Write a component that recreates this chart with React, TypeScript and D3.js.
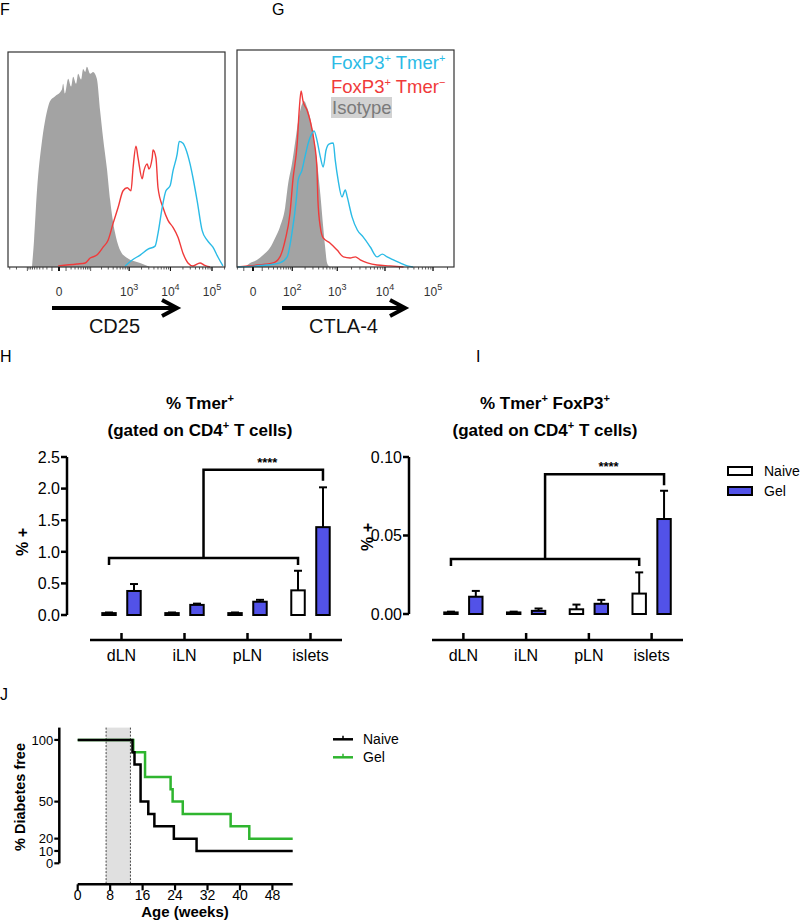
import React from "react";
import * as d3 from "d3";

const FONT = "'Liberation Sans', Arial, Helvetica, sans-serif";

// ---------------- Panels F & G : flow histograms ----------------
// x = biexponential display units (decades), y = % of mode
const F_ISOTYPE: [number, number][] = [
  [-0.65, 0], [-0.6, 12.6], [-0.53, 35.8], [-0.41, 59], [-0.29, 73], [-0.22, 77.7], [-0.1, 80],
  [0.07, 83.3], [0.1, 86], [0.14, 81.4], [0.22, 88.4], [0.29, 84.7], [0.34, 89.3], [0.41, 86],
  [0.46, 90.7], [0.53, 88], [0.58, 93], [0.63, 91.6], [0.67, 94], [0.75, 90.7], [0.82, 91.6],
  [0.91, 88.4], [0.99, 73], [1.06, 60.5], [1.15, 46.5], [1.23, 31.2], [1.35, 15.8], [1.47, 7.9],
  [1.64, 4.2], [1.95, 1.9], [2.19, 0],
];
const F_TMER_NEG: [number, number][] = [
  [-0.02, 0.5], [0.43, 1.4], [0.63, 1.9], [0.75, 4.2], [0.91, 5.6], [1.06, 9.3], [1.18, 12.6],
  [1.3, 20.5], [1.42, 27.9], [1.54, 35.8], [1.64, 37.2], [1.73, 35.8], [1.78, 46.5], [1.85, 56.7],
  [1.9, 51.2], [2.0, 41.4], [2.04, 45.1], [2.12, 48.4], [2.16, 46], [2.24, 51.2], [2.26, 54.9],
  [2.33, 51.2], [2.38, 37.2], [2.5, 27.9], [2.62, 21.9], [2.74, 18.6], [2.86, 14], [2.98, 6.5],
  [3.1, 1.9], [3.22, 0.5], [3.39, 1.9], [3.49, 0.9], [3.63, 0],
];
const F_TMER_POS: [number, number][] = [
  [1.59, 0.5], [1.76, 3.3], [1.95, 5.6], [2.14, 8.4], [2.31, 9.8], [2.38, 15.8], [2.48, 27.9],
  [2.57, 35.8], [2.67, 38.1], [2.74, 45.1], [2.84, 53], [2.89, 59], [2.98, 58.1], [3.05, 55.3],
  [3.15, 48.4], [3.22, 41.9], [3.32, 31.2], [3.44, 17.2], [3.56, 12.6], [3.7, 9.3], [3.82, 4.7],
  [3.94, 0.5],
];
const G_ISOTYPE: [number, number][] = [
  [-0.17, 0], [-0.06, 1.9], [0.08, 3.3], [0.21, 5.6], [0.35, 8.8], [0.46, 13.5], [0.56, 18.6],
  [0.67, 27.9], [0.73, 38.6], [0.81, 48], [0.88, 58.6], [0.94, 67.9], [1.02, 75.8], [1.06, 77.2],
  [1.13, 74], [1.19, 69.3], [1.25, 61.9], [1.33, 49.3], [1.4, 34], [1.46, 18.6], [1.5, 9.3],
  [1.54, 1.9], [1.6, 0],
];
const G_TMER_NEG: [number, number][] = [
  [-0.33, 0], [0.08, 0.9], [0.42, 1.9], [0.56, 4.7], [0.67, 12.6], [0.77, 25.1], [0.83, 40.5],
  [0.92, 57.7], [0.96, 72.6], [1.0, 81.9], [1.04, 77.2], [1.13, 72.6], [1.19, 67.9], [1.27, 58.6],
  [1.33, 46], [1.35, 31.2], [1.4, 18.6], [1.46, 13.5], [1.6, 11.2], [1.75, 7.9], [1.88, 4.7],
  [2.02, 4.2], [2.13, 4.7], [2.23, 3.3], [2.38, 1.9], [2.58, 0.9], [2.85, 0.5], [3.13, 0],
];
const G_TMER_POS: [number, number][] = [
  [-0.33, 0], [0.29, 0.9], [0.56, 1.9], [0.71, 4.7], [0.81, 15.8], [0.9, 31.2], [0.94, 40.5],
  [1.02, 45.1], [1.08, 51.2], [1.15, 57.7], [1.23, 62.3], [1.27, 63.3], [1.33, 59], [1.4, 51.2],
  [1.46, 46.5], [1.52, 54.4], [1.58, 57.2], [1.67, 57.7], [1.71, 49.8], [1.77, 40.5], [1.85, 32.6],
  [1.92, 35.8], [1.96, 32.6], [2.06, 23.3], [2.17, 17.2], [2.29, 14], [2.44, 9.3], [2.58, 4.7],
  [2.69, 6], [2.79, 4.7], [2.92, 3.3], [3.06, 1.9], [3.21, 0.5], [3.33, 0],
];
const F_TICK_VALUES = [0, 1e3, 1e4, 1e5];
const G_TICK_VALUES = [0, 1e2, 1e3, 1e4, 1e5];
const HIST_LEGEND = ["FoxP3", "FoxP3", "Isotype"];

// ---------------- Panels H & I : bar charts ----------------
const CATEGORIES = ["dLN", "iLN", "pLN", "islets"];
const SERIES = ["Naive", "Gel"];
const H_NAIVE = [0.03, 0.03, 0.03, 0.39];
const H_NAIVE_ERR = [0.01, 0.01, 0.01, 0.31];
const H_GEL = [0.38, 0.16, 0.21, 1.39];
const H_GEL_ERR = [0.11, 0.02, 0.03, 0.63];
const H_TICKS = [0, 0.5, 1, 1.5, 2, 2.5];
const H_BRACKET = [0.9, 2.3];
const I_NAIVE = [0.001, 0.001, 0.003, 0.013];
const I_NAIVE_ERR = [0.0005, 0.0005, 0.003, 0.0135];
const I_GEL = [0.011, 0.002, 0.0065, 0.0605];
const I_GEL_ERR = [0.0037, 0.0015, 0.0025, 0.018];
const I_TICKS = [0, 0.05, 0.1];
const I_BRACKET = [0.035, 0.089];

// ---------------- Panel J : survival ----------------
const J_NAIVE_TIME = [0, 13.5, 14, 15.5, 17.4, 18.9, 23.7, 29.3, 53];
const J_NAIVE_SURV = [100, 90, 80, 50, 40, 30, 20, 10, 10];
const J_GEL_TIME = [0, 13.7, 16.6, 22.9, 23.4, 25.9, 37.7, 42.3, 53];
const J_GEL_SURV = [100, 90, 70, 60, 50, 40, 30, 20, 20];
const J_X_TICKS = [0, 8, 16, 24, 32, 40, 48];
const J_Y_TICKS = [0, 10, 20, 50, 100];
const J_SHADE = [7, 13];

const CYAN = "#2bbbe6";
const RED = "#f03a3a";
const GREY = "#a3a3a3";
const BLUE = "#5252e8";
const GREEN = "#2fb52f";

const symT = (c: number) => (v: number) => Math.sign(v) * Math.log10(1 + Math.abs(v) / c);

function Histogram(props: {
  x0: number; x1: number; top: number; base: number; domain: [number, number]; c: number;
  iso: [number, number][]; neg: [number, number][]; pos: [number, number][]; ticks: number[];
  label: string; arrow: [number, number]; legend?: boolean;
}) {
  const { x0, x1, top, base, domain, c, iso, neg, pos, ticks, label, arrow, legend } = props;
  const x = d3.scaleLinear().domain(domain).range([x0, x1]);
  const y = d3.scaleLinear().domain([0, 100]).range([base, top + 2]);
  const T = symT(c);
  const area = d3.area<[number, number]>().x(d => x(d[0])).y0(base).y1(d => y(d[1])).curve(d3.curveMonotoneX);
  const line = d3.line<[number, number]>().x(d => x(d[0])).y(d => y(d[1])).curve(d3.curveMonotoneX);
  const minor: number[] = [];
  for (const s of [-1, 1]) for (let k = 1; k <= 5; k++) for (let m = 1; m <= 9; m++) {
    const v = s * m * Math.pow(10, k);
    const t = T(v);
    if (t > domain[0] && t < domain[1]) minor.push(v);
  }
  const ay = 308;
  return (
    <g>
      <path d={area(iso) || ""} fill={GREY} />
      <path d={line(neg) || ""} fill="none" stroke={RED} strokeWidth={1.4} />
      <path d={line(pos) || ""} fill="none" stroke={CYAN} strokeWidth={1.4} />
      <rect x={x0} y={top} width={x1 - x0} height={base - top} fill="none" stroke="#333" strokeWidth={1.2} />
      {minor.map((v, i) => (
        <line key={i} x1={x(T(v))} x2={x(T(v))} y1={base} y2={base + (Math.abs(Math.log10(Math.abs(v)) % 1) < 1e-9 ? 4 : 2.5)} stroke="#333" strokeWidth={0.8} />
      ))}
      {ticks.map((v, i) => (
        <g key={"t" + i}>
          <line x1={x(T(v))} x2={x(T(v))} y1={base} y2={base + 4} stroke="#111" strokeWidth={v === 0 ? 2 : 1} />
          <text x={x(T(v))} y={296} textAnchor="middle" fontSize={12} fill="#333" fontFamily={FONT}>
            {v === 0 ? "0" : <>10<tspan dy={-6} fontSize={9}>{Math.round(Math.log10(v))}</tspan></>}
          </text>
        </g>
      ))}
      <line x1={arrow[0]} x2={arrow[1] - 2} y1={ay} y2={ay} stroke="#000" strokeWidth={4} />
      <path d={`M${arrow[1] - 15},${ay - 8} L${arrow[1]},${ay} L${arrow[1] - 15},${ay + 8}`} fill="none" stroke="#000" strokeWidth={4} />
      <text x={(arrow[0] + arrow[1]) / 2} y={333} textAnchor="middle" fontSize={20} fontFamily={FONT} fill="#111">{label}</text>
      {legend && (
        <g fontFamily={FONT} fontSize={18.5}>
          <text x={331} y={69} fill={CYAN}>{HIST_LEGEND[0]}<tspan dy={-7} fontSize={11}>+</tspan><tspan dy={7}> Tmer</tspan><tspan dy={-7} fontSize={11}>+</tspan></text>
          <text x={331} y={93} fill={RED}>{HIST_LEGEND[1]}<tspan dy={-7} fontSize={11}>+</tspan><tspan dy={7}> Tmer</tspan><tspan dy={-7} fontSize={11}>−</tspan></text>
          <rect x={331} y={97} width={61} height={21} fill="#d2d2d2" />
          <text x={332} y={114} fill="#7a7a7a">{HIST_LEGEND[2]}</text>
        </g>
      )}
    </g>
  );
}

function BarPanel(props: {
  axisX: number; yTop: number; yBot: number; xStart: number; xEnd: number; xAxisY: number;
  max: number; ticks: number[]; fmt: string; naive: number[]; naiveErr: number[]; gel: number[]; gelErr: number[];
  bracket: number[]; title: string[]; titleX: number; ylab: [number, number];
}) {
  const p = props;
  const y = d3.scaleLinear().domain([0, p.max]).range([p.yBot, p.yTop]);
  const x = d3.scaleBand().domain(CATEGORIES).range([p.xStart, p.xEnd]);
  const bw = x.bandwidth();
  const x1 = d3.scaleBand().domain(SERIES).range([bw * 0.195, bw * 0.805]).paddingInner(0.46);
  const w = x1.bandwidth();
  const fmt = d3.format(p.fmt);
  const vals = [p.naive, p.gel];
  const errs = [p.naiveErr, p.gelErr];
  const cx = (cat: string, s: string) => (x(cat) as number) + (x1(s) as number) + w / 2;
  const lowL = cx("dLN", "Naive");
  const lowR = cx("islets", "Naive");
  const mid = (lowL + lowR) / 2;
  const hiR = cx("islets", "Gel");
  const yl = y(p.bracket[0]);
  const yh = y(p.bracket[1]);
  return (
    <g fontFamily={FONT}>
      <text x={p.titleX} y={409} textAnchor="middle" fontWeight="bold" fontSize={17}>
        {p.title.map((s, i) => (
          <React.Fragment key={i}>
            <tspan dy={i === 0 ? 0 : 7}>{(i === 0 ? "" : " ") + s}</tspan>
            <tspan dy={-7} fontSize={11}>+</tspan>
          </React.Fragment>
        ))}
      </text>
      <text x={p.titleX} y={436} textAnchor="middle" fontWeight="bold" fontSize={17}>
        (gated on CD4<tspan dy={-7} fontSize={11}>+</tspan><tspan dy={7}> T cells)</tspan>
      </text>
      <line x1={p.axisX} x2={p.axisX} y1={p.yTop} y2={p.yBot} stroke="#000" strokeWidth={2.5} />
      {p.ticks.map((t, i) => (
        <g key={i}>
          <line x1={p.axisX - 6} x2={p.axisX} y1={y(t)} y2={y(t)} stroke="#000" strokeWidth={2.5} />
          <text x={p.axisX - 7} y={y(t)} dy="0.36em" textAnchor="end" fontSize={16}>{fmt(t)}</text>
        </g>
      ))}
      <text transform={`translate(${p.ylab[0]},${p.ylab[1]}) rotate(-90)`} textAnchor="middle" fontWeight="bold" fontSize={16} dy="0.35em">% +</text>
      <line x1={p.xStart} x2={p.xEnd} y1={p.xAxisY} y2={p.xAxisY} stroke="#000" strokeWidth={2.5} />
      {CATEGORIES.map((c) => (
        <g key={c}>
          <line x1={(x(c) as number) + bw / 2} x2={(x(c) as number) + bw / 2} y1={p.xAxisY} y2={p.xAxisY - 7} stroke="#000" strokeWidth={2.5} />
          <text x={(x(c) as number) + bw / 2} y={p.xAxisY + 21} textAnchor="middle" fontSize={16}>{c}</text>
        </g>
      ))}
      {SERIES.map((s, si) =>
        CATEGORIES.map((c, i) => {
          const v = vals[si][i];
          const e = errs[si][i];
          const bx = (x(c) as number) + (x1(s) as number);
          const xc = bx + w / 2;
          return (
            <g key={s + c}>
              <line x1={xc} x2={xc} y1={y(v)} y2={y(v + e)} stroke="#000" strokeWidth={2} />
              <line x1={xc - 4} x2={xc + 4} y1={y(v + e)} y2={y(v + e)} stroke="#000" strokeWidth={2} />
              <rect x={bx} y={y(v)} width={w} height={y(0) - y(v)} fill={si === 0 ? "#fff" : BLUE} stroke="#000" strokeWidth={2} />
            </g>
          );
        })
      )}
      <path d={`M${lowL},${yl + 7} V${yl} H${lowR} V${yl + 7}`} fill="none" stroke="#000" strokeWidth={2.5} />
      <path d={`M${mid},${yl} V${yh} H${hiR} V${yh + 11}`} fill="none" stroke="#000" strokeWidth={2.5} />
      <text x={(mid + hiR) / 2 + 4} y={yh - 3} textAnchor="middle" fontSize={13} fontWeight="bold">****</text>
    </g>
  );
}

function Survival() {
  const x = d3.scaleLinear().domain([0, 53]).range([77.7, 292.7]);
  const y = d3.scaleLinear().domain([0, 110]).range([863.3, 727.6]);
  const line = d3.line<[number, number]>().x(d => x(d[0])).y(d => y(d[1])).curve(d3.curveStepAfter);
  const naive = J_NAIVE_TIME.map((t, i) => [t, J_NAIVE_SURV[i]] as [number, number]);
  const gel = J_GEL_TIME.map((t, i) => [t, J_GEL_SURV[i]] as [number, number]);
  const xAxisY = 884.3;
  const yAxisX = 59.3;
  return (
    <g fontFamily={FONT}>
      <rect x={x(J_SHADE[0])} y={y(110)} width={x(J_SHADE[1]) - x(J_SHADE[0])} height={xAxisY - y(110)} fill="#e0e0e0" />
      {J_SHADE.map((s, i) => (
        <line key={i} x1={x(s)} x2={x(s)} y1={y(110)} y2={xAxisY} stroke="#333" strokeWidth={0.9} strokeDasharray="2,1.5" />
      ))}
      <path d={line(gel) || ""} fill="none" stroke={GREEN} strokeWidth={2.5} />
      <path d={line(naive) || ""} fill="none" stroke="#000" strokeWidth={2.5} />
      <line x1={yAxisX} x2={yAxisX} y1={y(110)} y2={y(0)} stroke="#000" strokeWidth={2.5} />
      {J_Y_TICKS.map(t => (
        <g key={t}>
          <line x1={yAxisX - 5} x2={yAxisX} y1={y(t)} y2={y(t)} stroke="#000" strokeWidth={2.2} />
          <text x={yAxisX - 6} y={y(t)} dy="0.36em" textAnchor="end" fontSize={13}>{t}</text>
        </g>
      ))}
      <text transform={`translate(20,797) rotate(-90)`} textAnchor="middle" fontWeight="bold" fontSize={14.5} dy="0.35em">% Diabetes free</text>
      <line x1={x(0)} x2={x(53)} y1={xAxisY} y2={xAxisY} stroke="#000" strokeWidth={2.5} />
      {J_X_TICKS.map(t => (
        <g key={t}>
          <line x1={x(t)} x2={x(t)} y1={xAxisY} y2={xAxisY + 6} stroke="#000" strokeWidth={2.2} />
          <text x={x(t)} y={900} textAnchor="middle" fontSize={14}>{t}</text>
        </g>
      ))}
      <text x={185} y={917} textAnchor="middle" fontWeight="bold" fontSize={15}>Age (weeks)</text>
      {[["Naive", "#000", 739.3], ["Gel", GREEN, 757.3]].map(([n, col, ly]) => (
        <g key={n as string}>
          <line x1={333} x2={353} y1={ly as number} y2={ly as number} stroke={col as string} strokeWidth={2.5} />
          <line x1={343} x2={343} y1={(ly as number) - 3.5} y2={ly as number} stroke={col as string} strokeWidth={1.5} />
          <text x={363} y={ly as number} dy="0.36em" fontSize={14}>{n}</text>
        </g>
      ))}
    </g>
  );
}

export default function App() {
  return (
    <svg width={800} height={921} style={{ position: "absolute", left: 0, top: 0, background: "#fff" }} fontFamily={FONT}>
      <text x={0} y={15} fontSize={16} fontFamily={FONT}>F</text>
      <text x={272} y={15} fontSize={16} fontFamily={FONT}>G</text>
      <text x={0} y={362} fontSize={16} fontFamily={FONT}>H</text>
      <text x={476} y={362} fontSize={16} fontFamily={FONT}>I</text>
      <text x={0} y={700} fontSize={16} fontFamily={FONT}>J</text>
      <Histogram x0={8} x1={225} top={52} base={267} domain={[-1.226, 3.99]} c={21}
        iso={F_ISOTYPE} neg={F_TMER_NEG} pos={F_TMER_POS} ticks={F_TICK_VALUES} label="CD25" arrow={[52, 177]} />
      <Histogram x0={237} x1={454} top={50} base={267} domain={[-0.333, 4.181]} c={18}
        iso={G_ISOTYPE} neg={G_TMER_NEG} pos={G_TMER_POS} ticks={G_TICK_VALUES} label="CTLA-4" arrow={[282, 405]} legend />
      <BarPanel axisX={67} yTop={457} yBot={615} xStart={90} xEnd={342} xAxisY={640} max={2.5} ticks={H_TICKS} fmt=".1f"
        naive={H_NAIVE} naiveErr={H_NAIVE_ERR} gel={H_GEL} gelErr={H_GEL_ERR} bracket={H_BRACKET}
        title={["% Tmer"]} titleX={200} ylab={[22, 542]} />
      <BarPanel axisX={409} yTop={457} yBot={614} xStart={432} xEnd={683} xAxisY={640} max={0.1} ticks={I_TICKS} fmt=".2f"
        naive={I_NAIVE} naiveErr={I_NAIVE_ERR} gel={I_GEL} gelErr={I_GEL_ERR} bracket={I_BRACKET}
        title={["% Tmer", "FoxP3"]} titleX={545} ylab={[367, 537]} />
      <g fontFamily={FONT}>
        {SERIES.map((s, i) => (
          <g key={s}>
            <rect x={728} y={467 + i * 20} width={24} height={8} fill={i === 0 ? "#fff" : BLUE} stroke="#000" strokeWidth={2} />
            <text x={764} y={471 + i * 20} dy="0.36em" fontSize={14}>{s}</text>
          </g>
        ))}
      </g>
      <Survival />
    </svg>
  );
}
